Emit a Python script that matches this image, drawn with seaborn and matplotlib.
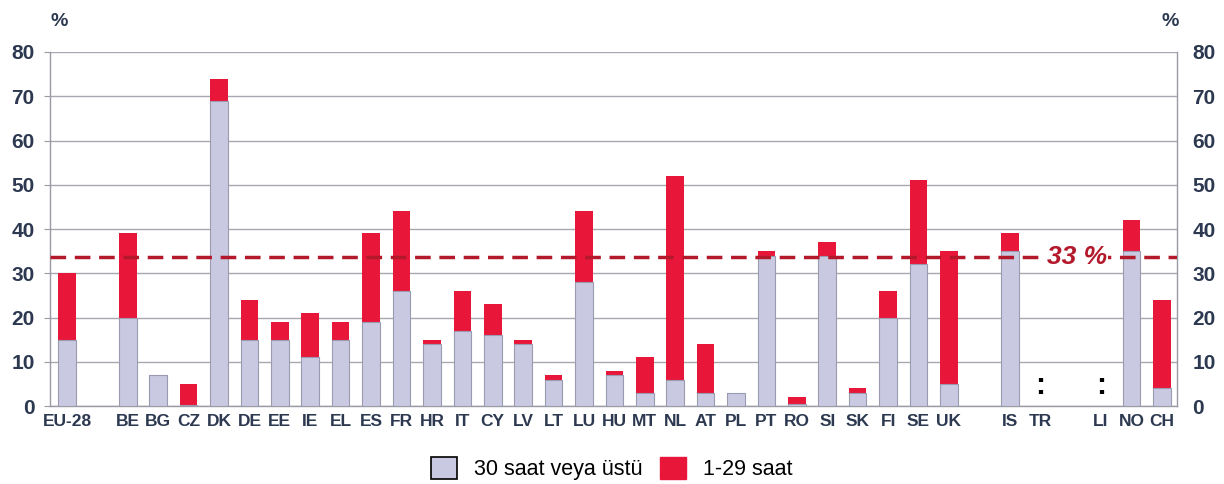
import numpy as np
import pandas as pd
from matplotlib import pyplot as plt
from matplotlib.patches import Patch
import seaborn as sns

# slots on the x axis, blanks are the gaps between groups
slots = ["EU-28", "_a", "BE", "BG", "CZ", "DK", "DE", "EE", "IE", "EL", "ES", "FR",
         "HR", "IT", "CY", "LV", "LT", "LU", "HU", "MT", "NL", "AT", "PL", "PT",
         "RO", "SI", "SK", "FI", "SE", "UK", "_b", "IS", "TR", "_c", "LI", "NO", "CH"]

countries = ["EU-28", "BE", "BG", "CZ", "DK", "DE", "EE", "IE", "EL", "ES", "FR",
             "HR", "IT", "CY", "LV", "LT", "LU", "HU", "MT", "NL", "AT", "PL", "PT",
             "RO", "SI", "SK", "FI", "SE", "UK", "IS", "TR", "LI", "NO", "CH"]

# share of part-timers working 30 hours or more
long_part = [15, 20, 7, 0.3, 69, 15, 15, 11, 15, 19, 26,
             14, 17, 16, 14, 6, 28, 7, 3, 6, 3, 3, 34,
             0.5, 34, 3, 20, 32, 5, 35, np.nan, np.nan, 35, 4]
# total (30+ plus 1-29 hours)
total = [30, 39, 7, 5, 74, 24, 19, 21, 19, 39, 44,
         15, 26, 23, 15, 7, 44, 8, 11, 52, 14, 3, 35,
         2, 37, 4, 26, 51, 35, 39, np.nan, np.nan, 42, 24]
no_data = ["TR", "LI"]
avg_value = 33.7
avg_label = "33 %"

df = pd.DataFrame({"country": countries, "long": long_part, "total": total})

lavender = "#c9c9e2"
red = "#e8173a"
dark_red = "#b3192b"
navy = "#2c3950"

plt.rcParams['font.family'] = ['Liberation Sans', 'DejaVu Sans']

fig = plt.figure(figsize=(12.24, 4.84), dpi=100)
ax = fig.add_axes([0.0408, 0.161, 0.9208, 0.7316])

sns.barplot(data=df, x="country", y="total", order=slots, color=red, saturation=1,
            width=0.58, ax=ax, zorder=3)
sns.barplot(data=df, x="country", y="long", order=slots, color=lavender, saturation=1,
            width=0.58, ax=ax, zorder=4, edgecolor="#9a9ab0", linewidth=0.8)

ax.set_ylim(0, 80)
ax.set_xlim(-0.56, 36.5)
ax.set_yticks(range(0, 81, 10))
ax.yaxis.grid(True, color="#a8a8b0", linewidth=1.0, zorder=0)
ax.set_axisbelow(True)
ax.spines["top"].set_visible(False)
for side in ["left", "right", "bottom"]:
    ax.spines[side].set_color("#9a9aa5")
    ax.spines[side].set_linewidth(1.0)

ax.set_xticks(range(len(slots)))
ax.set_xticklabels(["" if s.startswith("_") else s for s in slots],
                   fontsize=12.5, fontweight="bold", color=navy)
ax.tick_params(axis="x", length=0, pad=6)
ax.tick_params(axis="y", length=4, color="#9a9aa5", labelsize=15, labelcolor=navy,
               labelright=True, right=False, pad=7)
for lab in ax.get_yticklabels() + ax.yaxis.get_ticklabels(which="major"):
    lab.set_fontweight("bold")
for t in ax.yaxis.get_major_ticks():
    t.label2.set_fontweight("bold")
ax.set_xlabel("")
ax.set_ylabel("")

# average line
ax.axhline(avg_value, color=dark_red, linestyle=(0, (4.5, 2.5)), linewidth=2.5, zorder=5)
ax.text(33.2, avg_value, avg_label, color=dark_red, fontsize=19, fontweight="bold",
        fontstyle="italic", ha="center", va="center", zorder=6,
        bbox=dict(facecolor="white", edgecolor="none", pad=1))

# no data markers
for c in no_data:
    ax.text(slots.index(c), 4.5, ":", fontsize=22, fontweight="bold", color="black",
            ha="center", va="center", zorder=6)

fig.text(0.048, 0.955, "%", fontsize=14, fontweight="bold", color=navy, ha="center", va="center")
fig.text(0.956, 0.955, "%", fontsize=14, fontweight="bold", color=navy, ha="center", va="center")

handles = [Patch(facecolor=lavender, edgecolor="black", linewidth=1.2, label="30 saat veya üstü"),
           Patch(facecolor=red, edgecolor=red, label="1-29 saat")]
fig.legend(handles=handles, loc="center", bbox_to_anchor=(0.5, 0.032), ncol=2, frameon=False,
           fontsize=15.5, handlelength=1.2, handleheight=1.2, columnspacing=0.8, handletextpad=0.8)

fig.savefig("out.png", dpi=100)
